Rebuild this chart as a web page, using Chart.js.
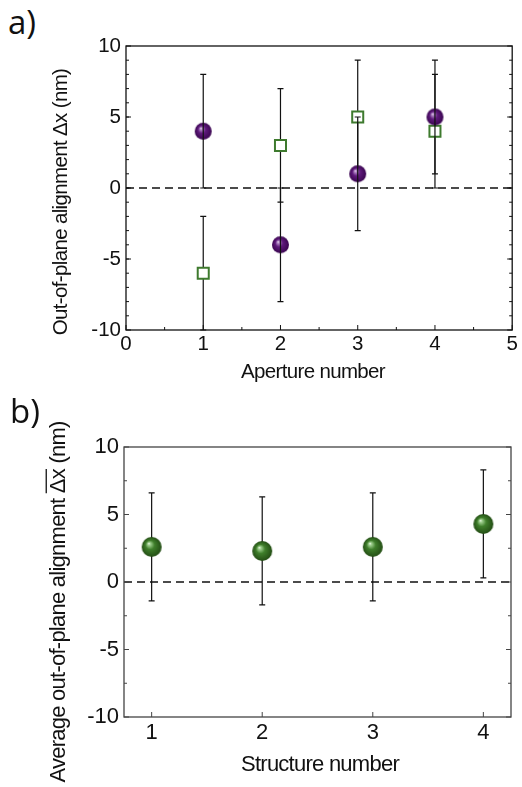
<!DOCTYPE html>
<html>
<head>
<meta charset="utf-8">
<script src="https://cdn.jsdelivr.net/npm/chart.js@4.4.1/dist/chart.umd.min.js"></script>
<style>
  body { margin: 0; background: #fff; width: 522px; height: 787px; position: relative; overflow: hidden; }
  .panel { position: absolute; left: 0; width: 522px; }
  .tag { position: absolute; font-family: "Open Sans", sans-serif; font-size: 33px; line-height: 1; color: #111; }
</style>
</head>
<body>
<div class="tag" style="left:8px;top:5px">a)</div>
<div class="panel" style="top:0;height:390px"><canvas id="chartA" width="522" height="390"></canvas></div>
<div class="tag" style="left:10px;top:394px">b)</div>
<div class="panel" style="top:390px;height:397px"><canvas id="chartB" width="522" height="397"></canvas></div>
<script>
// Panel a data
const apertures = [1, 2, 3, 4];
const circleValues = [4, -4, 1, 5];
const circleErrors = [4, 4, 4, 4];
const squareValues = [-6, 3, 5, 4];
const squareErrors = [4, 4, 4, 4];
const apertureTicks = [0, 1, 2, 3, 4, 5];
const alignTicks = [-10, -5, 0, 5, 10];

// Panel b data
const structures = [1, 2, 3, 4];
const averageValues = [2.6, 2.3, 2.6, 4.3];
const averageErrors = [4, 4, 4, 4];
const structureTicks = [1, 2, 3, 4];

const FONT = '"Liberation Sans", Arial, sans-serif';

// shiny ball marker
function sphere(r, dark, mid, light) {
  const c = document.createElement('canvas');
  c.width = c.height = 2 * r + 2;
  const g = c.getContext('2d');
  const cx = r + 1, cy = r + 1;
  const grad = g.createRadialGradient(cx - r * 0.3, cy - r * 0.35, 0, cx, cy, r);
  grad.addColorStop(0, '#ffffff');
  grad.addColorStop(0.12, light);
  grad.addColorStop(0.45, mid);
  grad.addColorStop(1, dark);
  g.fillStyle = grad;
  g.beginPath();
  g.arc(cx, cy, r, 0, Math.PI * 2);
  g.fill();
  return c;
}

function toPoints(xs, ys) {
  return xs.map((x, i) => ({ x: x, y: ys[i] }));
}

function drawErrors(chart, index) {
  const ds = chart.data.datasets[index];
  if (!ds.errors) return;
  const ctx = chart.ctx, xs = chart.scales.x, ys = chart.scales.y;
  ctx.save();
  ctx.strokeStyle = '#111';
  ctx.lineWidth = 1.2;
  ds.data.forEach((p, i) => {
    const px = xs.getPixelForValue(p.x);
    const top = ys.getPixelForValue(p.y + ds.errors[i]);
    const bot = ys.getPixelForValue(p.y - ds.errors[i]);
    ctx.beginPath();
    ctx.moveTo(px, top); ctx.lineTo(px, bot);
    ctx.moveTo(px - 3, top); ctx.lineTo(px + 3, top);
    ctx.moveTo(px - 3, bot); ctx.lineTo(px + 3, bot);
    ctx.stroke();
  });
  ctx.restore();
}

function range(from, to, step) {
  const out = [];
  for (let v = from; v <= to + 1e-9; v += step) out.push(v);
  return out;
}

const extras = {
  id: 'extras',
  beforeDatasetsDraw(chart) {
    const { ctx, chartArea } = chart;
    const y0 = chart.scales.y.getPixelForValue(0);
    ctx.save();
    ctx.strokeStyle = '#111';
    ctx.lineWidth = 1.3;
    ctx.setLineDash([8, 5]);
    ctx.beginPath();
    ctx.moveTo(chartArea.left, y0);
    ctx.lineTo(chartArea.right, y0);
    ctx.stroke();
    ctx.restore();
  },
  beforeDatasetDraw(chart, args) {
    if (!chart.data.datasets[args.index].errorsOnTop) drawErrors(chart, args.index);
  },
  afterDatasetDraw(chart, args) {
    if (chart.data.datasets[args.index].errorsOnTop) drawErrors(chart, args.index);
  },
  afterDraw(chart, args, opts) {
    const { ctx, chartArea: a } = chart;
    const xs = chart.scales.x, ys = chart.scales.y;
    ctx.save();
    ctx.strokeStyle = opts.frameColor;
    ctx.lineWidth = 1.3;
    ctx.strokeRect(a.left, a.top, a.right - a.left, a.bottom - a.top);
    // inward ticks
    ctx.lineWidth = 1;
    ctx.beginPath();
    opts.xTicks.forEach(t => {
      range(t.from, t.to, t.step).forEach(v => {
        const px = xs.getPixelForValue(v);
        ctx.moveTo(px, a.bottom); ctx.lineTo(px, a.bottom - t.len);
      });
    });
    opts.yTicks.forEach(t => {
      range(t.from, t.to, t.step).forEach(v => {
        const py = ys.getPixelForValue(v);
        ctx.moveTo(a.left, py); ctx.lineTo(a.left + t.len, py);
        ctx.moveTo(a.right, py); ctx.lineTo(a.right - t.len, py);
      });
    });
    ctx.stroke();
    // axis titles
    ctx.fillStyle = '#111';
    ctx.font = opts.titleSize + 'px ' + FONT;
    ctx.letterSpacing = opts.spacing;
    ctx.textAlign = 'center';
    ctx.textBaseline = 'middle';
    ctx.fillText(opts.xTitle, opts.xTitlePos[0], opts.xTitlePos[1]);
    ctx.translate(opts.yTitlePos[0], opts.yTitlePos[1]);
    ctx.rotate(-Math.PI / 2);
    ctx.fillText(opts.yTitle, 0, 0);
    if (opts.overline) {
      // bar over the Δx part of the title
      const full = ctx.measureText(opts.yTitle).width;
      const start = ctx.measureText(opts.overline[0]).width;
      const w = ctx.measureText(opts.overline[1]).width;
      const x0 = -full / 2 + start;
      ctx.lineWidth = 1.3;
      ctx.strokeStyle = '#111';
      ctx.beginPath();
      ctx.moveTo(x0, -opts.titleSize * 0.58);
      ctx.lineTo(x0 + w, -opts.titleSize * 0.58);
      ctx.stroke();
    }
    ctx.restore();
  }
};

function axisConfig(min, max, ticks, size, pad, fitKey, fitVal) {
  return {
    type: 'linear',
    min: min,
    max: max,
    grid: { display: false, drawTicks: false },
    border: { display: false },
    afterBuildTicks: s => { s.ticks = ticks.map(v => ({ value: v })); },
    afterFit: s => { s[fitKey] = fitVal; },
    ticks: { color: '#111', padding: pad, font: { family: FONT, size: size } }
  };
}

// Panel a
new Chart(document.getElementById('chartA'), {
  type: 'scatter',
  data: {
    datasets: [
      {
        data: toPoints(apertures, circleValues),
        errors: circleErrors,
        errorsOnTop: true,
        pointStyle: sphere(8.5, '#3a0550', '#5f1a7c', '#b48bc8'),
        pointRadius: 8.5
      },
      {
        data: toPoints(apertures, squareValues),
        errors: squareErrors,
        pointStyle: 'rect',
        pointRadius: 7.8,
        pointBackgroundColor: '#ffffff',
        pointBorderColor: '#3e7a2e',
        pointBorderWidth: 2
      }
    ]
  },
  options: {
    responsive: false,
    animation: false,
    layout: { padding: { top: 46, right: 5, left: 0, bottom: 0 } },
    scales: {
      x: axisConfig(0, 5, apertureTicks, 20.5, 2, 'height', 60),
      y: axisConfig(-10, 10, alignTicks, 20.5, 5, 'width', 126)
    },
    plugins: {
      legend: { display: false },
      tooltip: { enabled: false },
      extras: {
        frameColor: '#111',
        xTicks: [{ from: 0, to: 5, step: 1, len: 5 }, { from: 0.5, to: 4.5, step: 1, len: 3 }],
        yTicks: [{ from: -10, to: 10, step: 5, len: 5 }, { from: -9, to: 9, step: 1, len: 3 }],
        titleSize: 20.5,
        spacing: '-0.65px',
        xTitle: 'Aperture number',
        xTitlePos: [313, 372],
        yTitle: 'Out-of-plane alignment \u0394x (nm)',
        yTitlePos: [61, 202]
      }
    }
  },
  plugins: [extras]
});

// Panel b
new Chart(document.getElementById('chartB'), {
  type: 'scatter',
  data: {
    datasets: [
      {
        data: toPoints(structures, averageValues),
        errors: averageErrors,
        pointStyle: sphere(10, '#234d14', '#3f7f2b', '#a6d596'),
        pointRadius: 10
      }
    ]
  },
  options: {
    responsive: false,
    animation: false,
    layout: { padding: { top: 57, right: 3, left: 0, bottom: 0 } },
    scales: {
      x: axisConfig(0.75, 4.25, structureTicks, 22, 3, 'height', 70),
      y: axisConfig(-10, 10, alignTicks, 22, 5, 'width', 124)
    },
    plugins: {
      legend: { display: false },
      tooltip: { enabled: false },
      extras: {
        frameColor: '#444',
        xTicks: [{ from: 1, to: 4, step: 1, len: 5 }],
        yTicks: [{ from: -10, to: 10, step: 5, len: 5 }, { from: -7.5, to: 7.5, step: 5, len: 3 }],
        titleSize: 22,
        spacing: '-0.75px',
        xTitle: 'Structure number',
        xTitlePos: [320, 375],
        yTitle: 'Average out-of-plane alignment \u0394x (nm)',
        yTitlePos: [59, 212],
        overline: ['Average out-of-plane alignment ', '\u0394x']
      }
    }
  },
  plugins: [extras]
});
</script>
</body>
</html>
